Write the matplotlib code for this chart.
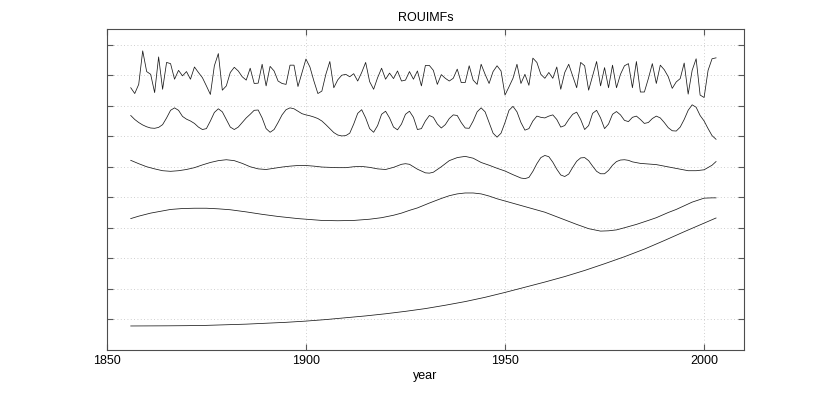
import numpy as np
import matplotlib
matplotlib.use("Agg")
import matplotlib.pyplot as plt

plt.rcParams['font.family'] = ['Liberation Sans', 'DejaVu Sans']

years = np.arange(1856, 2004)

imf1 = [-0.41, -0.60, -0.30, 0.80, 0.12, 0.03, -0.57, 0.60, -0.46, 0.42,
        0.38, -0.13, 0.16, -0.02, 0.12, -0.13, 0.27, 0.09, -0.08, -0.35,
        -0.63, 0.31, 0.71, -0.49, -0.35, 0.09, 0.26, 0.14, -0.05, -0.16,
        0.23, -0.27, -0.26, 0.36, -0.35, 0.29, 0.14, -0.19, -0.27, -0.30,
        0.33, 0.33, -0.37, 0.08, 0.53, 0.27, -0.19, -0.60, -0.52, 0.03,
        0.45, -0.41, -0.15, 0.00, 0.03, -0.05, 0.05, -0.19, 0.09, 0.42,
        -0.21, -0.46, -0.08, 0.23, -0.13, 0.07, -0.11, 0.14, -0.19, -0.16,
        0.12, -0.13, 0.14, -0.35, 0.32, 0.32, 0.16, -0.30, 0.02, -0.10,
        -0.19, -0.10, 0.20, -0.24, -0.24, 0.31, -0.16, -0.30, 0.36, 0.03,
        -0.27, 0.12, 0.31, 0.14, -0.65, -0.38, -0.10, 0.36, -0.27, 0.03,
        -0.33, 0.56, 0.42, 0.03, -0.10, 0.09, -0.10, 0.27, -0.46, 0.09,
        0.36, -0.02, -0.41, 0.42, 0.31, -0.49, -0.02, 0.45, -0.35, 0.25,
        -0.41, 0.33, -0.41, 0.03, 0.31, 0.38, -0.41, 0.45, -0.55, -0.55,
        -0.11, 0.38, -0.27, 0.33, 0.18, -0.05, -0.43, -0.22, -0.11, 0.40,
        -0.62, 0.16, 0.54, -0.65, -0.73, 0.16, 0.54, 0.57]

imf2 = [0.18, 0.05, -0.05, -0.13, -0.19, -0.23, -0.24, -0.21, -0.12, 0.10,
        0.35, 0.43, 0.35, 0.15, 0.06, 0.00, -0.08, -0.20, -0.28, -0.25,
        0.00, 0.28, 0.40, 0.30, 0.05, -0.20, -0.28, -0.20, -0.05, 0.10,
        0.22, 0.35, 0.36, 0.10, -0.25, -0.37, -0.28, -0.05, 0.20, 0.37,
        0.43, 0.40, 0.32, 0.24, 0.20, 0.17, 0.13, 0.08, 0.00, -0.12,
        -0.25, -0.38, -0.46, -0.49, -0.48, -0.40, -0.10, 0.25, 0.37, 0.10,
        -0.25, -0.37, -0.15, 0.22, 0.32, 0.10, -0.20, -0.29, -0.10, 0.22,
        0.32, 0.12, -0.28, -0.25, 0.00, 0.18, 0.12, -0.10, -0.23, -0.12,
        0.08, 0.20, 0.18, -0.05, -0.23, -0.24, 0.00, 0.30, 0.43, 0.30,
        -0.05, -0.40, -0.53, -0.40, -0.05, 0.35, 0.48, 0.30, -0.05, -0.30,
        -0.25, 0.00, 0.16, 0.12, 0.10, 0.16, 0.20, 0.05, -0.20, -0.15,
        0.05, 0.22, 0.29, 0.05, -0.28, -0.15, 0.25, 0.35, 0.10, -0.25,
        -0.10, 0.22, 0.31, 0.20, 0.02, -0.02, 0.12, 0.16, 0.05, -0.08,
        -0.05, 0.08, 0.16, 0.10, -0.05, -0.22, -0.32, -0.33, -0.20, 0.05,
        0.35, 0.53, 0.45, 0.18, 0.00, -0.25, -0.48, -0.60]

imf3_years = [1856, 1858, 1860, 1862, 1864, 1866, 1868, 1870, 1872, 1874,
              1876, 1878, 1880, 1882, 1884, 1886, 1888, 1890, 1892, 1894,
              1896, 1898, 1900, 1902, 1904, 1906, 1908, 1910, 1912, 1914,
              1916, 1918, 1920, 1922, 1924, 1925, 1926, 1928, 1930, 1931,
              1932, 1934, 1936, 1938, 1940, 1942, 1944, 1946, 1948, 1950,
              1952, 1954, 1955, 1956, 1957, 1958, 1959, 1960, 1961, 1962,
              1963, 1964, 1965, 1966, 1967, 1968, 1969, 1970, 1971, 1972,
              1973, 1974, 1975, 1976, 1977, 1978, 1979, 1980, 1981, 1982,
              1984, 1986, 1988, 1990, 1992, 1994, 1996, 1998, 2000, 2002, 2003]
imf3 = [0.21, 0.10, 0.00, -0.07, -0.13, -0.15, -0.13, -0.09, -0.03, 0.06,
        0.14, 0.20, 0.23, 0.20, 0.11, 0.00, -0.07, -0.09, -0.05, -0.01,
        0.02, 0.04, 0.04, 0.02, -0.01, -0.02, -0.03, -0.03, 0.00, 0.01,
        -0.02, -0.07, -0.09, -0.02, 0.08, 0.10, 0.08, -0.08, -0.20, -0.21,
        -0.18, 0.00, 0.20, 0.30, 0.34, 0.28, 0.14, 0.05, -0.05, -0.14,
        -0.26, -0.37, -0.39, -0.35, -0.15, 0.10, 0.30, 0.37, 0.33, 0.15,
        -0.08, -0.27, -0.32, -0.24, -0.02, 0.18, 0.29, 0.30, 0.20, 0.02,
        -0.15, -0.23, -0.23, -0.12, 0.05, 0.17, 0.22, 0.23, 0.21, 0.16,
        0.11, 0.09, 0.07, 0.02, -0.03, -0.08, -0.13, -0.13, -0.10, 0.05, 0.17]

imf4_years = [1856, 1858, 1861, 1866, 1869, 1872, 1875, 1878, 1881, 1885,
              1889, 1893, 1898, 1904, 1908, 1912, 1916, 1919, 1922, 1924,
              1926, 1928, 1931, 1934, 1936, 1938, 1940, 1942, 1944, 1946,
              1948, 1951, 1954, 1957, 1960, 1963, 1965, 1968, 1971, 1974,
              1976, 1978, 1980, 1983, 1986, 1988, 1991, 1993, 1995, 1997,
              2000, 2002, 2003]
imf4 = [-0.20, -0.12, -0.02, 0.10, 0.13, 0.14, 0.14, 0.12, 0.09, 0.02,
        -0.06, -0.13, -0.20, -0.26, -0.27, -0.26, -0.22, -0.17, -0.09, -0.02,
        0.07, 0.15, 0.31, 0.46, 0.55, 0.61, 0.64, 0.64, 0.61, 0.54,
        0.45, 0.34, 0.23, 0.12, 0.01, -0.14, -0.24, -0.39, -0.53, -0.61,
        -0.60, -0.57, -0.50, -0.39, -0.26, -0.17, 0.00, 0.10, 0.22, 0.34,
        0.47, 0.48, 0.48]

trend_years = [1856, 1865, 1870, 1875, 1880, 1885, 1890, 1895, 1900, 1905,
               1910, 1915, 1920, 1925, 1930, 1935, 1940, 1945, 1950, 1955,
               1960, 1965, 1970, 1975, 1980, 1985, 1990, 1995, 2003]
trend = [-0.22, -0.215, -0.21, -0.20, -0.18, -0.16, -0.13, -0.10, -0.06, -0.01,
         0.05, 0.11, 0.18, 0.26, 0.35, 0.46, 0.58, 0.72, 0.88, 1.05,
         1.22, 1.40, 1.60, 1.82, 2.05, 2.30, 2.58, 2.87, 3.32]

offsets = [8.0, 6.5, 5.0, 3.5, 0.0]
xticks = [1850, 1900, 1950, 2000]
title = "ROUIMFs"
xlabel = "year"

fig = plt.figure(figsize=(8.22, 3.93), dpi=100)
ax = fig.add_axes([0.13, 0.11, 0.775, 0.815])

series = [(years, imf1), (years, imf2), (imf3_years, imf3),
          (imf4_years, imf4), (trend_years, trend)]
for (xs, ys), off in zip(series, offsets):
    ax.plot(xs, np.asarray(ys) + off, color='0.1', lw=0.55)

ax.set_xlim(1850, 2010)
ax.set_ylim(-1, 9.5)
ax.set_xticks(xticks)
ax.set_xticklabels([str(t) for t in xticks], fontsize=9)
ax.set_yticks(range(0, 10))
ax.set_yticklabels([])
ax.grid(True, linestyle=(0, (1, 3)), color='0.75', lw=0.6)
ax.tick_params(direction='in', length=4, width=0.8, color='0.35',
               top=True, right=True, pad=4)
for s in ax.spines.values():
    s.set_color('0.3')
    s.set_linewidth(0.8)
ax.set_title(title, fontsize=9, pad=6)
ax.set_xlabel(xlabel, fontsize=9, labelpad=2)

fig.savefig("out.png", dpi=100)
